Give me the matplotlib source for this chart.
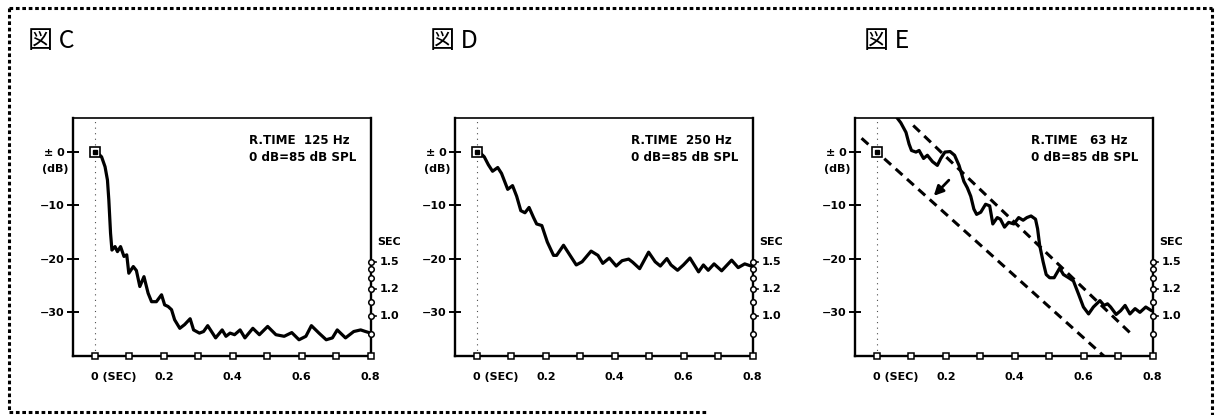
import matplotlib
matplotlib.use("Agg")
from matplotlib import pyplot as plt
from matplotlib.lines import Line2D

plt.rcParams['font.family'] = ['DejaVu Sans']

# decay curves (time in sec, level in dB)
t_c = [0.005, 0.019, 0.029, 0.036, 0.040, 0.045, 0.049, 0.058, 0.065, 0.074, 0.084, 0.092,
       0.098, 0.111, 0.120, 0.130, 0.142, 0.154, 0.164, 0.178, 0.193, 0.202, 0.212, 0.222,
       0.231, 0.246, 0.260, 0.276, 0.286, 0.303, 0.315, 0.327, 0.350, 0.369, 0.380, 0.392,
       0.405, 0.421, 0.435, 0.458, 0.477, 0.501, 0.525, 0.549, 0.571, 0.592, 0.612, 0.628,
       0.650, 0.671, 0.689, 0.703, 0.727, 0.751, 0.771, 0.785, 0.800]
db_c = [0, -0.9, -2.75, -5.25, -9, -15.25, -18.4, -17.75, -18.7, -17.75, -19.6, -19.3,
        -22.75, -21.5, -22.25, -25.25, -23.4, -26.5, -28.1, -28.1, -26.8, -28.7, -29, -29.6,
        -31.5, -33.1, -32.4, -31.3, -33.4, -34, -33.7, -32.6, -34.9, -33.4, -34.6, -34,
        -34.3, -33.4, -34.9, -33.1, -34.3, -32.75, -34.3, -34.6, -33.9, -35.25, -34.6, -32.6,
        -34, -35.25, -34.9, -33.4, -34.9, -33.7, -33.4, -33.7, -34]

t_d = [0.007, 0.021, 0.033, 0.045, 0.060, 0.071, 0.089, 0.103, 0.115, 0.127, 0.139, 0.151,
       0.164, 0.173, 0.188, 0.204, 0.222, 0.231, 0.251, 0.267, 0.288, 0.305, 0.331, 0.351,
       0.365, 0.384, 0.404, 0.421, 0.440, 0.452, 0.472, 0.498, 0.517, 0.532, 0.551, 0.563,
       0.582, 0.599, 0.618, 0.643, 0.657, 0.671, 0.688, 0.710, 0.739, 0.758, 0.777, 0.800]
db_d = [0, -0.9, -2.4, -3.6, -2.9, -4, -7, -6.3, -8.3, -11, -11.4, -10.4,
        -12.3, -13.5, -13.8, -16.9, -19.4, -19.4, -17.5, -19.1, -21.2, -20.6, -18.6, -19.4,
        -20.9, -19.9, -21.4, -20.4, -20.1, -20.7, -21.9, -18.8, -20.6, -21.4, -20, -21.2,
        -22.2, -21.2, -19.9, -22.5, -21.2, -22.2, -21, -22.3, -20.3, -21.7, -21, -21.5]

t_e = [0.055, 0.069, 0.084, 0.093, 0.100, 0.113, 0.122, 0.135, 0.146, 0.161, 0.175, 0.185,
       0.197, 0.212, 0.225, 0.238, 0.252, 0.262, 0.272, 0.281, 0.289, 0.301, 0.315, 0.327,
       0.336, 0.349, 0.358, 0.370, 0.382, 0.397, 0.411, 0.424, 0.435, 0.447, 0.460, 0.466,
       0.472, 0.482, 0.491, 0.501, 0.514, 0.530, 0.541, 0.556, 0.570, 0.585, 0.599, 0.614,
       0.628, 0.647, 0.659, 0.669, 0.678, 0.694, 0.707, 0.720, 0.734, 0.749, 0.763, 0.780, 0.797]
db_e = [6.7, 5.5, 3.7, 1.5, 0.3, 0, 0.3, -1.2, -0.6, -1.8, -2.5, -1.2,
        0, 0.1, -0.6, -2.5, -5.5, -6.7, -8.3, -10.7, -11.7, -11.3, -9.8, -10.1,
        -13.5, -12.3, -12.6, -14.1, -13.2, -13.5, -12.3, -12.8, -12.3, -12, -12.6, -14.4,
        -17.5, -20.6, -23, -23.6, -23.6, -21.8, -23, -23.6, -24.2, -26.7, -29.1, -30.4,
        -29.1, -27.9, -28.8, -28.5, -29.1, -30.5, -29.8, -28.8, -30.4, -29.4, -30.1, -29.1, -29.8]

# dashed reference decay lines in E
line1_t = [0.105, 0.745]
line1_db = [5.0, -34.6]
line2_t = [-0.045, 0.66]
line2_db = [2.6, -38.4]

titles = ['図 C', '図 D', '図 E']
freqs = ['125 Hz', '250 Hz', ' 63 Hz']

xticks = [0.0, 0.1, 0.2, 0.3, 0.4, 0.5, 0.6, 0.7, 0.8]
xlabels = {0.2: '0.2', 0.4: '0.4', 0.6: '0.6', 0.8: '0.8'}
yticks = [0, -10, -20, -30]
ylabels = ['± 0', '−10', '−20', '−30']
# reverberation time scale on the right edge
sec_db = [-20.6, -21.9, -23.6, -25.7, -28.1, -30.8, -34.2]
sec_labels = {-20.6: '1.5', -25.7: '1.2', -30.8: '1.0'}

curves = [(t_c, db_c), (t_d, db_d), (t_e, db_e)]
lefts = [73, 455, 855]
titles_x = [28, 430, 864]

W, H = 1217, 415
fig = plt.figure(figsize=(W / 100, H / 100), dpi=100)

# dotted outer frame
frame_kw = dict(color='black', lw=2.2, ls=(0, (1.2, 0.9)), transform=fig.transFigure)
fig.add_artist(Line2D([9 / W, 1212 / W], [1 - 8 / H, 1 - 8 / H], **frame_kw))
fig.add_artist(Line2D([9 / W, 9 / W], [1 - 8 / H, 1 - 412 / H], **frame_kw))
fig.add_artist(Line2D([9 / W, 707 / W], [1 - 412 / H, 1 - 412 / H], **frame_kw))
fig.add_artist(Line2D([1212 / W, 1212 / W], [1 - 8 / H, 0], **frame_kw))

bold = dict(fontweight='bold', fontsize=8, color='black')

for i in range(3):
    ax = fig.add_axes([lefts[i] / W, 1 - 356 / H, 298 / W, 238 / H])
    ax.set_xlim(-0.064, 0.801)
    ax.set_ylim(-38.3, 6.4)
    for s in ax.spines.values():
        s.set_linewidth(1.7)
    ax.spines['top'].set_linewidth(1.2)

    ax.set_yticks(yticks)
    ax.set_yticklabels(ylabels, **bold)
    ax.tick_params(axis='y', direction='inout', length=8, width=1.4, pad=2)
    ax.set_xticks([])
    ax.text(-0.077, -3.2, '(dB)', ha='right', va='center', **bold)

    # x scale: squares on the base line
    ax.plot(xticks, [-38.3] * len(xticks), ls='none', marker='s', ms=4, mfc='white',
            mec='black', mew=1.1, clip_on=False, zorder=5)
    ax.text(-0.012, -41.3, '0 (SEC)', ha='left', va='top', **bold)
    for x, lab in xlabels.items():
        ax.text(x, -41.3, lab, ha='center', va='top', **bold)

    # reverberation time scale
    ax.plot([0.8] * len(sec_db), sec_db, ls='none', marker='o', ms=4, mfc='white',
            mec='black', mew=1.1, clip_on=False, zorder=5)
    for y, lab in sec_labels.items():
        ax.plot([0.8, 0.815], [y, y], color='black', lw=1.2, clip_on=False)
        ax.text(0.825, y, lab, ha='left', va='center', **bold)
    ax.text(0.82, -16.8, 'SEC', ha='left', va='center', **bold)

    # start marker and time zero
    ax.axvline(0, color='black', lw=0.8, ls=(0, (1, 4)), alpha=0.7)
    ax.plot([0], [0], marker='s', ms=7, mfc='white', mec='black', mew=1.2, zorder=6)
    ax.plot([0], [0], marker='s', ms=2.5, mfc='black', mec='black', zorder=7)

    t, db = curves[i]
    ax.plot(t, db, color='black', lw=2.3, solid_joinstyle='round', solid_capstyle='round')

    ax.text(0.448, 2.1, 'R.TIME  ' + freqs[i], ha='left', va='center', fontsize=8.6,
            fontweight='bold')
    ax.text(0.448, -1.1, '0 dB=85 dB SPL', ha='left', va='center', fontsize=8.6,
            fontweight='bold')

    fig.text(titles_x[i] / W, 1 - 41 / H, titles[i], fontsize=18, va='center', ha='left',
             family=['Noto Sans CJK JP', 'DejaVu Sans'])

    if i == 2:
        ax.plot(line1_t, line1_db, color='black', lw=2.2, ls=(0, (3, 2)))
        ax.plot(line2_t, line2_db, color='black', lw=2.2, ls=(0, (3, 2)))
        ax.annotate('', xy=(0.159, -8.6), xytext=(0.214, -4.9),
                    arrowprops=dict(arrowstyle='-|>', color='black', lw=2,
                                    mutation_scale=14))

fig.savefig('out.png', dpi=100)
